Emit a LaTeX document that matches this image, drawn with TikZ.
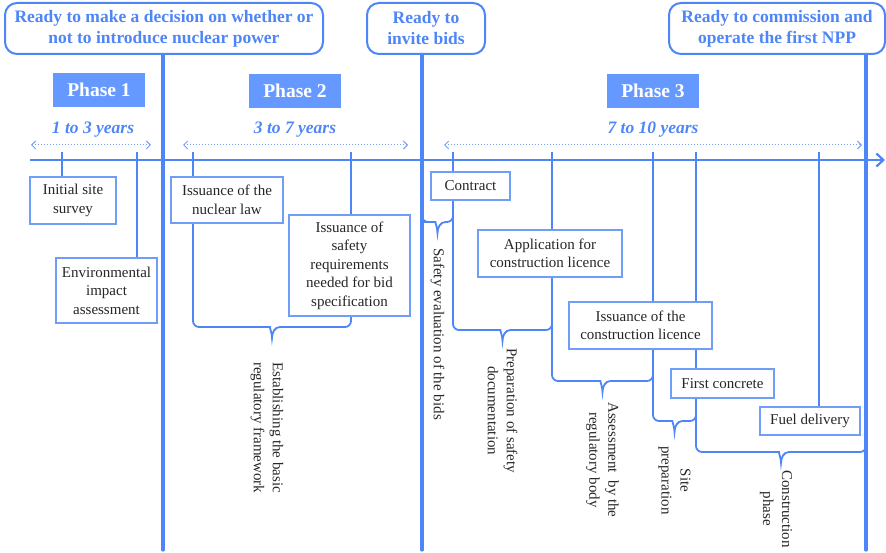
\documentclass[tikz,border=0pt]{standalone}
\usepackage{fontspec}
\setmainfont{Liberation Serif}
\usetikzlibrary{calc, positioning}
\usetikzlibrary{arrows.meta}
\pgfdeclarelayer{lines}
\pgfsetlayers{lines,main}
\definecolor{tlblue}{RGB}{79,134,247}
\definecolor{phaseblue}{RGB}{102,153,255}
\definecolor{boxblue}{RGB}{112,157,247}
\def\bw{8pt}
\def\bh{11pt}
\newcommand\tlbrace[4]{
    \coordinate (#4-m) at ($(#1)!0.5!(#2)$);
    \draw[brace] (#1) [rounded corners=6pt] |- ([xshift=-\bw] #4-m |- 0,#3) [sharp corners]
        to[out=0, in=90] ([yshift=-\bh] #4-m |- 0,#3) coordinate (#4)
        to[out=90, in=180] ([xshift=\bw] #4-m |- 0,#3) [rounded corners=6pt] -| (#2);
    }
\tikzset{
    milestone/.style = {
        draw=tlblue, line width=2pt, rounded corners=12pt, fill=white, align=center, inner sep=0pt,
        text=tlblue, font=\fontsize{17.5}{21}\selectfont\bfseries
    },
    phase/.style = {
        fill=phaseblue, text=white, minimum width=92pt, minimum height=34pt, inner sep=0pt,
        font=\fontsize{19.5}{22}\selectfont\bfseries
    },
    years/.style = {text=tlblue, font=\fontsize{17.5}{20}\selectfont\bfseries\itshape},
    event/.style = {
        draw=boxblue, line width=1.3pt, fill=white, align=center, inner sep=0pt,
        text=black!85, font=\fontsize{15}{18.5}\selectfont
    },
    vlabel/.style = {rotate=-90, anchor=west, align=center, inner sep=0pt, text=black!85, font=\fontsize{15}{19}\selectfont},
    tick/.style = {draw=tlblue, line width=1.8pt},
    brace/.style = {draw=tlblue, line width=1.8pt},
    mline/.style = {draw=tlblue, line width=3.2pt, line cap=round},
    span/.style = {draw=tlblue!80, dotted, line width=1pt, {Straight Barb[length=4pt,width=8pt]}-{Straight Barb[length=4pt,width=8pt]}},
}

\begin{document}
\begin{tikzpicture}[x=1pt, y=-1pt]
    \useasboundingbox (0,0) rectangle (886,553);
    % Milestones and phases
    \node[milestone, minimum width=318pt, minimum height=51pt] (m1) at (164,28.5) {Ready to make a decision on whether or\\not to introduce nuclear power};
    \node[milestone, minimum width=118pt, minimum height=51pt] (m2) at (426,28.5) {Ready to\\invite bids};
    \node[milestone, minimum width=216pt, minimum height=51pt] (m3) at (777,28.5) {Ready to commission and\\operate the first NPP};
    \node[phase] (p1) at (99,90) {Phase 1};
    \node[phase] (p2) at (295,91) {Phase 2};
    \node[phase] (p3) at (653,91) {Phase 3};
    \node[years] (y1) at (93,130) {1 to 3 years};
    \node[years] (y2) at (295,130) {3 to 7 years};
    \node[years] (y3) at (653,130) {7 to 10 years};

    % Place the events
    \node[event, minimum width=86pt, minimum height=47pt] (survey) at (73,200.5) {Initial site\\survey};
    \node[event, minimum width=101pt, minimum height=65pt] (eia) at (106.5,290.5) {Environmental\\impact\\assessment};
    \node[event, minimum width=112pt, minimum height=46pt] (law) at (227,200) {Issuance of the\\nuclear law};
    \node[event, minimum width=121pt, minimum height=101pt] (safreq) at (349.5,265.5) {Issuance of\\safety\\requirements\\needed for bid\\specification};
    \node[event, minimum width=79pt, minimum height=28pt] (contract) at (470.5,186) {Contract};
    \node[event, minimum width=144pt, minimum height=47pt] (app) at (550,253.5) {Application for\\construction licence};
    \node[event, minimum width=143pt, minimum height=47pt] (iscl) at (640.5,325.5) {Issuance of the\\construction licence};
    \node[event, minimum width=103pt, minimum height=29pt] (concrete) at (722.5,383.5) {First concrete};
    \node[event, minimum width=100pt, minimum height=28pt] (fuel) at (810,421) {Fuel delivery};

    % Axis, ticks and milestone lines
    \coordinate (axL) at (30,160);
    \coordinate (axR) at (885,160);
    \foreach \n/\x in {1/62, 2/137, 3/193, 4/351, 5/453, 6/552, 7/653, 8/696, 9/819}{
        \coordinate (t\n) at (\x,152);
    }
    \coordinate (ms1) at (163,550);
    \coordinate (ms2) at (422,550);
    \coordinate (ms3) at (866,550);
    \coordinate (m2l) at (422,212);
    \coordinate (m3b) at (866,440);
    \begin{pgfonlayer}{lines}
        \draw[tlblue, line width=2.2pt, -{Straight Barb[length=7pt,width=13pt]}] (axL) -- (axR);
        \foreach \n/\bx in {1/survey, 2/eia, 3/law, 4/safreq, 5/contract, 6/app, 7/iscl, 8/concrete, 9/fuel}{
            \draw[tick] (t\n) -- (t\n |- \bx.north);
        }
        \foreach \i in {1,2,3}{
            \draw[mline] (m\i.south -| ms\i) -- (ms\i);
        }
        % Braces
        \tlbrace{law.south -| t3}{safreq.south -| t4}{327}{ba}
        \tlbrace{m2l}{contract.south -| t5}{222}{bb}
        \tlbrace{contract.south -| t5}{app.south -| t6}{330}{bc}
        \tlbrace{app.south -| t6}{iscl.south -| t7}{381}{bd}
        \tlbrace{iscl.south -| t7}{concrete.south -| t8}{421}{be}
        \tlbrace{concrete.south -| t8}{m3b}{452}{bf}
    \end{pgfonlayer}

    % Durations
    \coordinate (d1a) at (31,145);  \coordinate (d1b) at (151,145);
    \coordinate (d2a) at (183,145); \coordinate (d2b) at (408,145);
    \coordinate (d3a) at (444,145); \coordinate (d3b) at (862,145);
    \foreach \i in {1,2,3}{
        \draw[span] (d\i a) -- (d\i b);
    }

    % Brace labels
    \node[vlabel] (la) at ([xshift=-5pt, yshift=-24pt] ba) {Establishing the basic\\regulatory framework};
    \node[vlabel] (lb) at ([yshift=-15pt] bb) {Safety evaluation of the bids};
    \node[vlabel] (lc) at ([yshift=-7pt] bc) {Preparation of safety\\documentation};
    \node[vlabel] (ld) at ([yshift=-10pt] bd) {Assessment\ \ by the\\regulatory body};
    \node[vlabel] (le) at ([yshift=-14pt] be) {Site\\preparation};
    \node[vlabel] (lf) at ([xshift=-5pt, yshift=-7pt] bf) {Construction\\phase};
\end{tikzpicture}
\end{document}
